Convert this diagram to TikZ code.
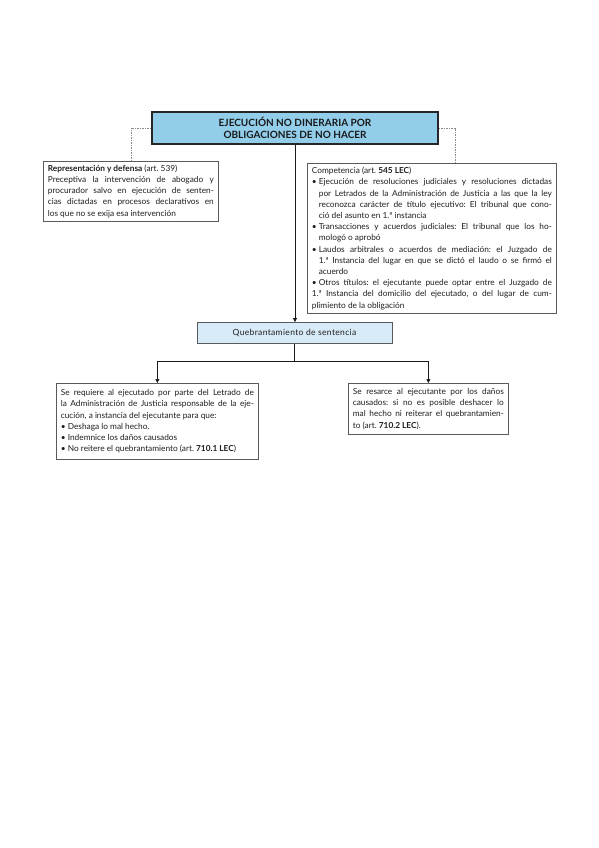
\documentclass[tikz,border=0pt]{standalone}
\usepackage{fontspec}
\setmainfont{Lato}
\usetikzlibrary{arrows.meta}
\definecolor{titlefill}{HTML}{92CDEA}
\definecolor{quebfill}{HTML}{D7EAF7}
\definecolor{boxline}{HTML}{5A5A5A}
\definecolor{txt}{HTML}{1E1E1E}
\setlength{\parindent}{0pt}
\tolerance=10000
\hyphenpenalty=10000
\frenchspacing
\newcommand{\bul}{\par\noindent\hangindent=7pt\hangafter=1\makebox[7pt][l]{\textbullet}}
\begin{document}
\begin{tikzpicture}[x=1pt,y=-1pt,
  textbox/.style={draw=boxline, line width=0.7pt, fill=white, anchor=north west,
    inner xsep=4.5pt, inner ysep=3.5pt, align=justify, text=txt,
    font=\fontsize{8.3}{11.2}\selectfont,
    execute at begin node={\setlength{\parindent}{0pt}\frenchspacing}},
  titlebox/.style={draw=black!85, line width=1.1pt, fill=titlefill, align=center,
    font=\fontsize{10}{12.5}\selectfont\bfseries, text=black!90},
  quebbox/.style={draw=boxline, line width=0.8pt, fill=quebfill, text=txt,
    font=\fontsize{8.5}{10}\selectfont\addfontfeature{LetterSpace=4}},
  dashline/.style={draw=black!45, line width=0.6pt, dash pattern=on 1.5pt off 1pt},
  conn/.style={draw=black!90, line width=0.7pt},
  arr/.style={conn, -{Triangle[length=4pt,width=4pt]}}
]
\useasboundingbox (0,0) rectangle (599,848);
\fill[white] (0,0) rectangle (599,848);

\node[titlebox, minimum width=286pt, minimum height=32pt] (title) at (295,128)
  {EJECUCIÓN NO DINERARIA POR\\OBLIGACIONES DE NO HACER};

\node[textbox, text width=166pt, minimum width=175pt, minimum height=57pt] (left) at (43,161) {%
\noindent{\bfseries Representación y defensa} (art. 539)\par
Preceptiva la intervención de abogado y\linebreak
procurador salvo en ejecución de senten-\linebreak
cias dictadas en procesos declarativos en\linebreak
los que no se exija esa intervención};

\node[textbox, text width=240pt, minimum width=249pt, minimum height=150pt] (right) at (307,163) {%
\noindent Competencia (art. {\bfseries 545 LEC})
\bul Ejecución de resoluciones judiciales y resoluciones dictadas\linebreak
por Letrados de la Administración de Justicia a las que la ley\linebreak
reconozca carácter de título ejecutivo: El tribunal que cono-\linebreak
ció del asunto en 1.ª instancia
\bul Transacciones y acuerdos judiciales: El tribunal que los ho-\linebreak
mologó o aprobó
\bul Laudos arbitrales o acuerdos de mediación: el Juzgado de\linebreak
1.ª Instancia del lugar en que se dictó el laudo o se firmó el\linebreak
acuerdo
\bul Otros títulos: el ejecutante puede optar entre el Juzgado de\linebreak
1.ª Instancia del domicilio del ejecutado, o del lugar de cum-\linebreak
plimiento de la obligación};

\node[quebbox, minimum width=195pt, minimum height=21pt] (queb) at (294.5,333)
  {Quebrantamiento de sentencia};

\node[textbox, text width=193pt, minimum width=202pt, minimum height=76pt] (bl) at (56,383) {%
\noindent Se requiere al ejecutado por parte del Letrado de\linebreak
la Administración de Justicia responsable de la eje-\linebreak
cución, a instancia del ejecutante para que:
\bul Deshaga lo mal hecho.
\bul Indemnice los daños causados
\bul No reitere el quebrantamiento (art. {\bfseries 710.1 LEC})};

\node[textbox, text width=151pt, minimum width=160pt, minimum height=51pt] (br) at (348,383) {%
\noindent Se resarce al ejecutante por los daños\linebreak
causados: si no es posible deshacer lo\linebreak
mal hecho ni reiterar el quebrantamien-\linebreak
to (art. {\bfseries 710.2 LEC}).};

\coordinate (dR) at (455,0);
\coordinate (split) at (294.5,361);

\draw[dashline] (title.west) -| (left.north);
\draw[dashline] (title.east) -| (right.north -| dR);
\draw[arr] (title.south) -- (title.south |- queb.north);
\draw[conn] (queb.south) -- (split);
\draw[arr] (split) -| (bl.north);
\draw[arr] (split) -| (br.north);
\end{tikzpicture}
\end{document}
